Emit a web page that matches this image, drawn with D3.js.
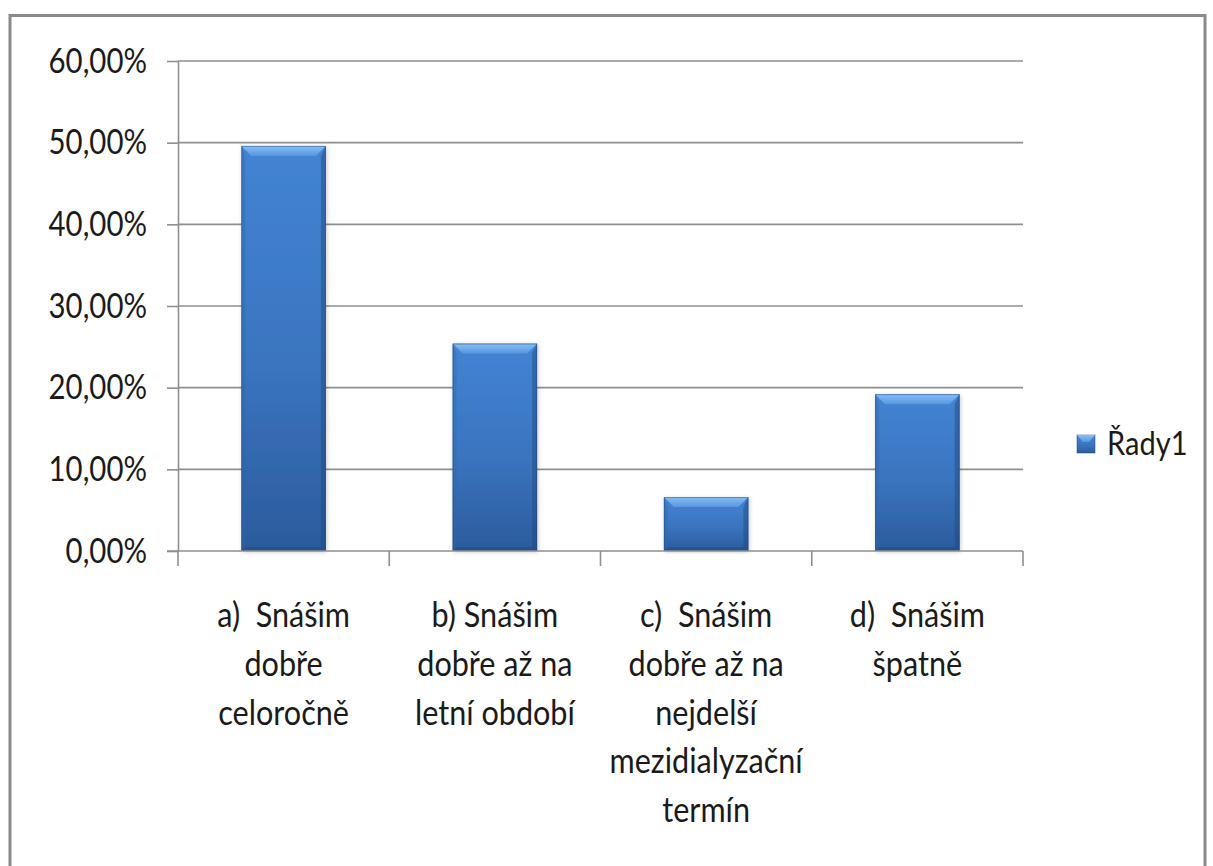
<!DOCTYPE html>
<html>
<head>
<meta charset="utf-8">
<script src="https://cdn.jsdelivr.net/npm/d3@7"></script>
<style>
  body { margin: 0; background: #fff; }
  svg { display: block; }
  text { font-family: Lato, "Open Sans", sans-serif; fill: #1a1a1a; }
</style>
</head>
<body>
<svg id="chart" width="1213" height="866"></svg>
<script>
// Survey answers (multi-line category labels use "\n")
const categories = [
  "a)  Snášim\ndobře\nceloročně",
  "b) Snášim\ndobře až na\nletní období",
  "c)  Snášim\ndobře až na\nnejdelší\nmezidialyzační\ntermín",
  "d)  Snášim\nšpatně"
];
const values = [0.496, 0.254, 0.066, 0.192];
const yTicks = [0, 0.1, 0.2, 0.3, 0.4, 0.5, 0.6];
const seriesName = "Řady1";

const svg = d3.select("#chart");
const plot = { left: 178, right: 1023, top: 61, bottom: 551 };
const textScaleX = 0.84;   // narrow the humanist face
const fontSize = 35;

// Outer chart frame
svg.append("rect")
  .attr("x", 10).attr("y", 15.5)
  .attr("width", 1195).attr("height", 900)
  .attr("fill", "none").attr("stroke", "#8a8a8a").attr("stroke-width", 3);

const x = d3.scaleBand()
  .domain(categories)
  .range([plot.left, plot.right])
  .paddingInner(0.6)
  .paddingOuter(0.3);

const y = d3.scaleLinear()
  .domain([0, 0.6])
  .range([plot.bottom, plot.top]);

const lineColor = "#8f8f8f";

// Horizontal gridlines
svg.append("g")
  .selectAll("line")
  .data(yTicks.filter(d => d > 0))
  .join("line")
  .attr("x1", plot.left).attr("x2", plot.right)
  .attr("y1", d => y(d)).attr("y2", d => y(d))
  .attr("stroke", lineColor).attr("stroke-width", 1.6);

// Y axis
const fmt = d => d3.format(".2f")(d * 100).replace(".", ",") + "%";
const yAxis = svg.append("g")
  .attr("transform", `translate(${plot.left},0)`)
  .call(d3.axisLeft(y).tickValues(yTicks).tickFormat(fmt).tickSize(11).tickSizeOuter(0));
yAxis.select(".domain").attr("stroke", lineColor).attr("stroke-width", 1.6);
yAxis.selectAll(".tick line").attr("stroke", lineColor).attr("stroke-width", 1.6);
yAxis.selectAll(".tick text")
  .attr("x", null).attr("dy", null)
  .attr("transform", `translate(-31,11) scale(${textScaleX},1)`)
  .attr("text-anchor", "end")
  .style("font-size", fontSize + "px")
  .style("font-family", "Lato, sans-serif")
  .attr("fill", "#1a1a1a");

// Bar gradients and bevels
const defs = svg.append("defs");
const body = defs.append("linearGradient").attr("id", "barBody")
  .attr("x1", 0).attr("y1", 0).attr("x2", 0).attr("y2", 1);
body.append("stop").attr("offset", "0%").attr("stop-color", "#4384d3");
body.append("stop").attr("offset", "55%").attr("stop-color", "#3a74bf");
body.append("stop").attr("offset", "100%").attr("stop-color", "#2b5b9c");

const topBevel = defs.append("linearGradient").attr("id", "barTop")
  .attr("x1", 0).attr("y1", 0).attr("x2", 0).attr("y2", 1);
topBevel.append("stop").attr("offset", "0%").attr("stop-color", "#86c0f5");
topBevel.append("stop").attr("offset", "100%").attr("stop-color", "#5796e0");

const shadow = defs.append("filter").attr("id", "barShadow")
  .attr("x", "-20%").attr("y", "-5%").attr("width", "140%").attr("height", "110%");
shadow.append("feDropShadow").attr("dx", 1).attr("dy", 1).attr("stdDeviation", 2)
  .attr("flood-color", "#000").attr("flood-opacity", 0.22);

const bars = svg.append("g")
  .selectAll("g")
  .data(categories.map((c, i) => ({ c, v: values[i] })))
  .join("g");

const bw = x.bandwidth();
const bev = 10;

bars.append("rect")
  .attr("x", d => x(d.c)).attr("y", d => y(d.v))
  .attr("width", bw).attr("height", d => y(0) - y(d.v))
  .attr("fill", "url(#barBody)")
  .attr("filter", "url(#barShadow)");

// top bevel
bars.append("path")
  .attr("d", d => {
    const x0 = x(d.c), x1 = x0 + bw, t = y(d.v);
    return `M${x0},${t}L${x1},${t}L${x1 - bev},${t + bev}L${x0 + bev},${t + bev}Z`;
  })
  .attr("fill", "url(#barTop)");

// side bevels
bars.append("path")
  .attr("d", d => {
    const x0 = x(d.c), t = y(d.v), b = y(0);
    return `M${x0},${t}L${x0 + 4},${t + bev}L${x0 + 4},${b - 4}L${x0},${b}Z`;
  })
  .attr("fill", "#2f67ad").attr("opacity", 0.35);

bars.append("path")
  .attr("d", d => {
    const x1 = x(d.c) + bw, t = y(d.v), b = y(0);
    return `M${x1},${t}L${x1 - 5},${t + bev}L${x1 - 5},${b - 4}L${x1},${b}Z`;
  })
  .attr("fill", "#1f467c").attr("opacity", 0.45);

// bottom bevel
bars.append("path")
  .attr("d", d => {
    const x0 = x(d.c), x1 = x0 + bw, b = y(0);
    return `M${x0},${b}L${x1},${b}L${x1 - 4},${b - 4}L${x0 + 4},${b - 4}Z`;
  })
  .attr("fill", "#1f467c").attr("opacity", 0.45);

// outline
bars.append("rect")
  .attr("x", d => x(d.c) + 0.5).attr("y", d => y(d.v) + 0.5)
  .attr("width", bw - 1).attr("height", d => y(0) - y(d.v) - 1)
  .attr("fill", "none").attr("stroke", "#1f4478").attr("stroke-opacity", 0.45);

// X axis line and category boundary ticks
svg.append("line")
  .attr("x1", plot.left - 11).attr("x2", plot.right)
  .attr("y1", plot.bottom).attr("y2", plot.bottom)
  .attr("stroke", lineColor).attr("stroke-width", 1.6);

const boundaries = d3.range(categories.length + 1).map(i => plot.left + i * x.step());
svg.append("g")
  .selectAll("line")
  .data(boundaries)
  .join("line")
  .attr("x1", d => d).attr("x2", d => d)
  .attr("y1", plot.bottom).attr("y2", plot.bottom + 15)
  .attr("stroke", lineColor).attr("stroke-width", 1.6);

// Category labels
const lineGap = 48.75;
const labels = svg.append("g")
  .selectAll("g")
  .data(categories)
  .join("g")
  .attr("transform", d => `translate(${x(d) + bw / 2},627)`);

labels.each(function (d) {
  const g = d3.select(this);
  d.split("\n").forEach((line, i) => {
    g.append("text")
      .attr("transform", `translate(0,${i * lineGap}) scale(0.9,1)`)
      .attr("text-anchor", "middle")
      .style("font-size", "34px")
      .style("white-space", "pre")
      .attr("xml:space", "preserve")
      .text(line);
  });
});

// Legend
const legend = svg.append("g").attr("transform", "translate(1077,435)");
legend.append("rect")
  .attr("width", 18).attr("height", 18)
  .attr("fill", "url(#barBody)").attr("stroke", "#1f4478").attr("stroke-opacity", 0.5);
legend.append("path")
  .attr("d", "M0,0L18,0L12,7L6,7Z")
  .attr("fill", "url(#barTop)");
legend.append("text")
  .attr("transform", `translate(30,20) scale(0.88,1)`)
  .style("font-size", "33px")
  .text(seriesName);
</script>
</body>
</html>
